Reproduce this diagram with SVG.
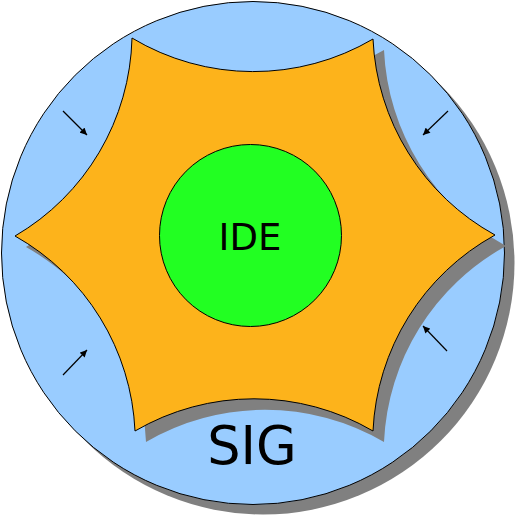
<svg xmlns="http://www.w3.org/2000/svg" width="518" height="518" viewBox="0 0 518 518">
<style>
.shadow{fill:#808080;stroke:none}
.outline{stroke:#000;stroke-width:1}
.arrow{stroke:#000;stroke-width:1.2;fill:none;marker-end:url(#ah)}
.lbl{font-family:"DejaVu Sans",sans-serif;fill:#000;text-anchor:middle}
</style>
<defs>
<marker id="ah" viewBox="0 0 10 10" refX="10" refY="5" markerWidth="8" markerHeight="7" orient="auto" markerUnits="userSpaceOnUse">
<path d="M0,0 L10,5 L0,10 Z" fill="#000"/>
</marker>
<path id="starPath" d="M132,38 A236,236 0 0 0 373,39 A236,236 0 0 0 495,235 A236,236 0 0 0 373,431 A236,236 0 0 0 135,431 A236,236 0 0 0 15,236 A236,236 0 0 0 132,38 Z"/>
</defs>
<g id="sig">
<circle class="shadow" cx="263" cy="263" r="251.5"/>
<circle class="outline" cx="253" cy="253" r="251.5" fill="#99ccff"/>
<text class="lbl" x="252" y="464" font-size="52.5">SIG</text>
</g>
<g id="star">
<use href="#starPath" class="shadow" transform="translate(11,11)"/>
<use href="#starPath" class="outline" fill="#fdb31b"/>
</g>
<g id="ide">
<circle class="outline" cx="250.5" cy="235.5" r="91" fill="#22ff22"/>
<text class="lbl" x="250" y="250" font-size="37">IDE</text>
</g>
<g id="connectors">
<line class="arrow" x1="63" y1="111" x2="87" y2="135"/>
<line class="arrow" x1="448" y1="111" x2="423" y2="135"/>
<line class="arrow" x1="447" y1="351" x2="423" y2="326"/>
<line class="arrow" x1="63" y1="375" x2="87" y2="350"/>
</g>
</svg>
